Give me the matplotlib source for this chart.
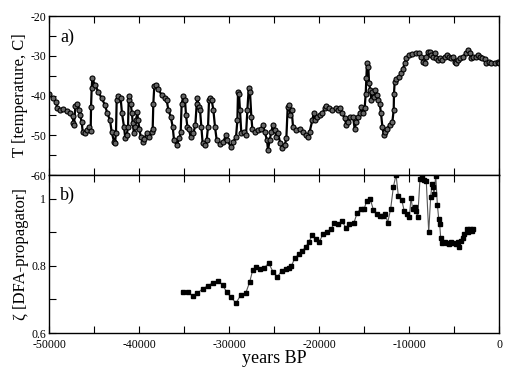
import matplotlib
matplotlib.use('Agg')
import matplotlib.pyplot as plt
from matplotlib.ticker import MultipleLocator, FormatStrFormatter

plt.rcParams['font.family'] = ['Liberation Serif', 'DejaVu Serif']
plt.rcParams['axes.unicode_minus'] = False

# a) temperatur (years BP, grad C)
jahre = [-50000, -49520, -49220, -49070, -48780, -48410, -48040, -47670, -47370, -47300,
         -47220, -47070, -46850, -46630, -46550, -46370, -46260, -46000, -45740, -45520,
         -45370, -45330, -45260, -45190, -44890, -44520, -44150, -43780, -43520, -43220,
         -43040, -42780, -42670, -42560, -42480, -42300, -42040, -41890, -41670, -41520,
         -41370, -41220, -41150, -41070, -40930, -40780, -40700, -40560, -40410, -40330,
         -40190, -40110, -39960, -39810, -39590, -39440, -39150, -38850, -38590, -38480,
         -38410, -38300, -38150, -37850, -37480, -37110, -36930, -36740, -36480, -36260,
         -36110, -35810, -35520, -35370, -35260, -35070, -34890, -34780, -34630, -34480,
         -34260, -33960, -33740, -33590, -33520, -33370, -33220, -33070, -32930, -32700,
         -32480, -32330, -32220, -32110, -31930, -31740, -31560, -31370, -31000, -30630,
         -30330, -30190, -29810, -29520, -29220, -29070, -29000, -28890, -28780, -28630,
         -28330, -28110, -27960, -27810, -27670, -27520, -27410, -27150, -26780, -26410,
         -26220, -26040, -25780, -25670, -25480, -25300, -25110, -24930, -24740, -24560,
         -24300, -24070, -23810, -23630, -23480, -23330, -23190, -23040, -22890, -22520,
         -22150, -21780, -21480, -21220, -21040, -20740, -20590, -20410, -20220, -19930,
         -19630, -19370, -19190, -18890, -18520, -18150, -17890, -17630, -17410, -17150,
         -16960, -16780, -16520, -16220, -16040, -15850, -15670, -15410, -15300, -15110,
         -14930, -14810, -14740, -14670, -14520, -14440, -14300, -14190, -14070, -13930,
         -13740, -13560, -13410, -13260, -13110, -12960, -12810, -12670, -12440, -12150,
         -11850, -11700, -11670, -11590, -11410, -11110, -10850, -10670, -10480, -10300,
         -10000, -9630, -9190, -8890, -8630, -8440, -8260, -8070, -7890, -7700,
         -7520, -7330, -7150, -6960, -6780, -6590, -6300, -6040, -5780, -5560,
         -5300, -5110, -4930, -4740, -4560, -4300, -4000, -3700, -3440, -3260,
         -3070, -2890, -2590, -2330, -2150, -1850, -1590, -1410, -1110, -850,
         -480, -110, 0]
temp = [-39.7, -40.7, -41.6, -43.2, -43.6, -43.5, -43.9, -44.5, -45.2, -46.8,
        -47.4, -42.6, -42.0, -43.6, -44.9, -46.6, -49.1, -49.4, -48.7, -48.0,
        -48.8, -42.8, -38.2, -35.7, -37.4, -39.0, -40.7, -42.4, -44.5, -46.2,
        -49.1, -51.6, -52.0, -49.5, -41.1, -40.1, -40.7, -44.5, -47.8, -50.8,
        -50.0, -47.8, -41.1, -40.1, -42.0, -44.5, -47.0, -49.5, -47.8, -46.2,
        -44.1, -46.2, -48.3, -50.4, -51.6, -51.0, -49.5, -50.4, -49.1, -48.3,
        -42.0, -37.6, -37.4, -38.4, -39.9, -40.5, -41.1, -43.6, -45.3, -47.8,
        -51.2, -52.5, -50.8, -49.1, -42.0, -40.1, -41.1, -44.9, -47.8, -48.3,
        -50.4, -49.5, -47.4, -42.0, -40.7, -42.8, -43.6, -47.8, -52.0, -52.5,
        -51.2, -47.8, -41.1, -40.5, -41.1, -43.6, -47.8, -51.2, -52.2, -51.6,
        -49.9, -51.2, -52.9, -51.6, -50.4, -46.2, -39.0, -39.5, -43.6, -49.5,
        -49.1, -49.9, -43.6, -38.2, -39.0, -45.3, -48.3, -49.1, -48.7, -48.3,
        -47.4, -49.1, -51.2, -53.7, -51.2, -49.1, -47.4, -48.7, -50.4, -49.5,
        -52.0, -53.3, -52.5, -50.8, -42.8, -42.4, -44.9, -43.6, -47.8, -48.7,
        -48.3, -49.1, -49.9, -50.4, -49.1, -46.2, -44.5, -46.2, -45.3, -44.9,
        -44.5, -43.2, -42.6, -43.2, -43.6, -43.2, -43.6, -43.2, -44.5, -45.7,
        -47.4, -46.6, -45.3, -45.3, -48.3, -46.6, -45.3, -44.5, -42.8, -44.5,
        -43.2, -39.5, -35.7, -31.9, -32.7, -36.9, -38.6, -41.1, -39.0, -40.3,
        -38.6, -39.9, -41.1, -42.0, -44.5, -47.8, -49.9, -49.1, -48.3, -47.4,
        -46.6, -43.6, -39.5, -36.5, -35.9, -35.3, -34.4, -33.2, -31.9, -30.6,
        -29.8, -29.6, -29.2, -29.4, -30.2, -31.5, -31.9, -30.2, -29.0, -29.0,
        -29.8, -30.2, -29.4, -30.6, -31.1, -30.6, -31.1, -30.2, -29.8, -30.4,
        -30.6, -30.2, -31.5, -31.9, -31.1, -30.6, -30.2, -29.4, -28.6, -29.4,
        -30.6, -30.4, -30.2, -29.8, -30.2, -30.6, -30.9, -31.9, -31.5, -31.9,
        -31.7, -31.5, -31.7]

# b) DFA-exponent
jahre_b = [-35140, -34590, -34030, -33520, -32920, -32370, -31780, -31190, -30700, -30260,
           -29810, -29220, -28700, -28140, -27700, -27370, -27030, -26560, -26080, -25590,
           -25110, -24630, -24150, -23670, -23300, -23080, -22700, -22260, -21890, -21480,
           -21110, -20740, -20330, -19960, -19520, -19110, -18670, -18300, -17890, -17440,
           -17000, -16630, -16140, -15780, -15370, -14970, -14700, -14330, -13960, -13590,
           -13220, -12850, -12630, -12370, -12040, -11740, -11440, -11190, -10810, -10520,
           -10260, -9960, -9780, -9590, -9330, -9220, -9030, -8780, -8560, -8370,
           -8080, -7810, -7590, -7440, -7330, -7220, -7030, -6850, -6700, -6590,
           -6480, -6330, -6030, -5780, -5560, -5330, -5070, -4810, -4590, -4410,
           -4220, -4040, -3850, -3590, -3410, -3220, -3040, -2850]
zeta = [0.721, 0.721, 0.710, 0.718, 0.732, 0.740, 0.750, 0.756, 0.742, 0.722,
        0.707, 0.689, 0.713, 0.719, 0.752, 0.787, 0.795, 0.790, 0.794, 0.808,
        0.782, 0.767, 0.785, 0.789, 0.792, 0.799, 0.822, 0.834, 0.843, 0.856,
        0.872, 0.892, 0.879, 0.872, 0.896, 0.902, 0.909, 0.927, 0.923, 0.932,
        0.913, 0.925, 0.926, 0.956, 0.970, 0.970, 0.994, 1.000, 0.967, 0.955,
        0.948, 0.948, 0.955, 0.928, 0.969, 1.034, 1.071, 1.009, 0.996, 0.962,
        0.953, 0.945, 1.002, 0.969, 0.974, 0.962, 0.945, 1.058, 1.065, 1.055,
        1.051, 0.900, 1.006, 1.044, 1.033, 1.014, 1.068, 0.982, 0.940, 0.923,
        0.883, 0.868, 0.871, 0.868, 0.864, 0.871, 0.868, 0.864, 0.871, 0.856,
        0.873, 0.884, 0.895, 0.908, 0.900, 0.909, 0.904, 0.908]

fig = plt.figure(figsize=(5.17, 3.74), dpi=100)
ax1 = fig.add_axes([0.0948, 0.532, 0.8704, 0.425])
ax2 = fig.add_axes([0.0948, 0.1096, 0.8704, 0.4224])

ax1.plot(jahre, temp, color='black', lw=1.6, marker='o', ms=3.6,
         mfc='#666666', mec='black', mew=0.8)
ax2.plot(jahre_b, zeta, color='#555555', lw=0.8, marker='s', ms=2.3,
         mfc='black', mec='black')

for ax in (ax1, ax2):
    ax.set_xlim(-50000, 0)
    ax.xaxis.set_major_locator(MultipleLocator(10000))
    ax.xaxis.set_minor_locator(MultipleLocator(5000))
    ax.tick_params(which='both', direction='in', top=True, right=False,
                   length=5, width=0.8, labelsize=8.5, pad=2)
    for s in ax.spines.values():
        s.set_linewidth(1.0)

ax1.set_ylim(-60, -20)
ax1.yaxis.set_major_locator(MultipleLocator(10))
ax1.yaxis.set_minor_locator(MultipleLocator(5))
ax1.tick_params(labelbottom=False)
ax1.set_ylabel('T [temperature, C]', fontsize=12, labelpad=2)
ax1.text(0.025, 0.84, 'a)', transform=ax1.transAxes, fontsize=13)

ax2.set_ylim(0.6, 1.07)
ax2.yaxis.set_major_locator(MultipleLocator(0.2))
ax2.yaxis.set_minor_locator(MultipleLocator(0.1))
ax2.yaxis.set_major_formatter(FormatStrFormatter('%g'))
ax2.xaxis.set_major_formatter(FormatStrFormatter('%d'))
ax2.tick_params(axis='x', pad=4.5)
ax2.set_ylabel('ζ [DFA-propagator]', fontsize=12, labelpad=2)
ax2.set_xlabel('years BP', fontsize=13, labelpad=-1)
ax2.text(0.025, 0.84, 'b)', transform=ax2.transAxes, fontsize=13)

# 0.6 sitzt knapp ueber -50000
fig.canvas.draw()
ax2.get_yticklabels()[0].set_va('baseline')

fig.savefig('out.png', dpi=100)
